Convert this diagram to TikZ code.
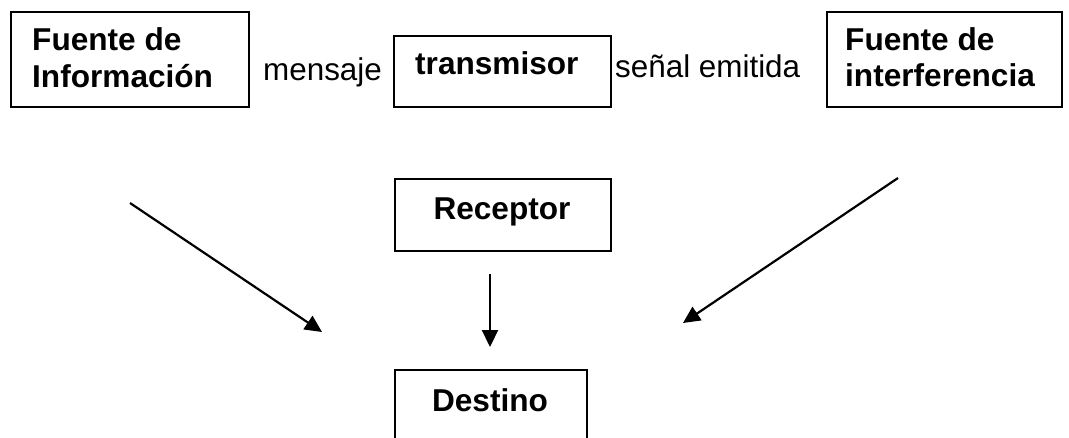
\documentclass[tikz,border=0pt]{standalone}
\usepackage{fontspec}
\setmainfont{Liberation Sans}
\usetikzlibrary{arrows.meta}
\tikzset{
  boxnode/.style={draw=black, line width=2pt, rectangle, inner sep=0pt, fill=none},
  boldtext/.style={font=\fontsize{31.6}{37}\selectfont\bfseries, inner sep=0pt},
  plaintext/.style={font=\fontsize{31.4}{37}\selectfont, inner sep=0pt},
  arrowline/.style={line width=2.2pt, -{Triangle[length=17pt,width=16pt]}}
}
\begin{document}
\begin{tikzpicture}[x=1pt,y=-1pt]
\useasboundingbox (0,0) rectangle (1069,437);
\clip (0,0) rectangle (1069,437);
% boxes
\node[boxnode, minimum width=238pt, minimum height=95pt] (fuente) at (130,59.5) {};
\node[boxnode, minimum width=217pt, minimum height=71pt] (trans) at (502,71) {};
\node[boxnode, minimum width=235pt, minimum height=95pt] (interf) at (944,59.5) {};
\node[boxnode, minimum width=216pt, minimum height=72pt] (recep) at (502.5,214.5) {};
\node[boxnode, minimum width=192pt, minimum height=100pt] (dest) at (490.5,420) {};
% box texts
\node[boldtext, anchor=base west] (fuenteA) at (32,50) {Fuente de};
\node[boldtext, anchor=base west] (fuenteB) at (32,87) {Información};
\node[boldtext, anchor=base west] (transT) at (415,74) {transmisor};
\node[boldtext, anchor=base west] (interfA) at (845,50) {Fuente de};
\node[boldtext, anchor=base west] (interfB) at (845,86) {interferencia};
\node[boldtext, anchor=base] (recepT) at (502,219) {Receptor};
\node[boldtext, anchor=base] (destT) at (490,411) {Destino};
% labels
\node[plaintext, anchor=base west] (mensaje) at (263,80) {mensaje};
\node[plaintext, anchor=base west] (senal) at (615,77) {señal emitida};
% arrows
\coordinate (ls) at (130,203);
\coordinate (le) at (322,332);
\coordinate (rs) at (898,178);
\coordinate (re) at (683,323);
\coordinate (ms) at (490,274);
\coordinate (me) at (490,347);
\draw[arrowline] (ls) -- (le);
\draw[arrowline] (rs) -- (re);
\draw[arrowline] (ms) -- (me);
\end{tikzpicture}
\end{document}
